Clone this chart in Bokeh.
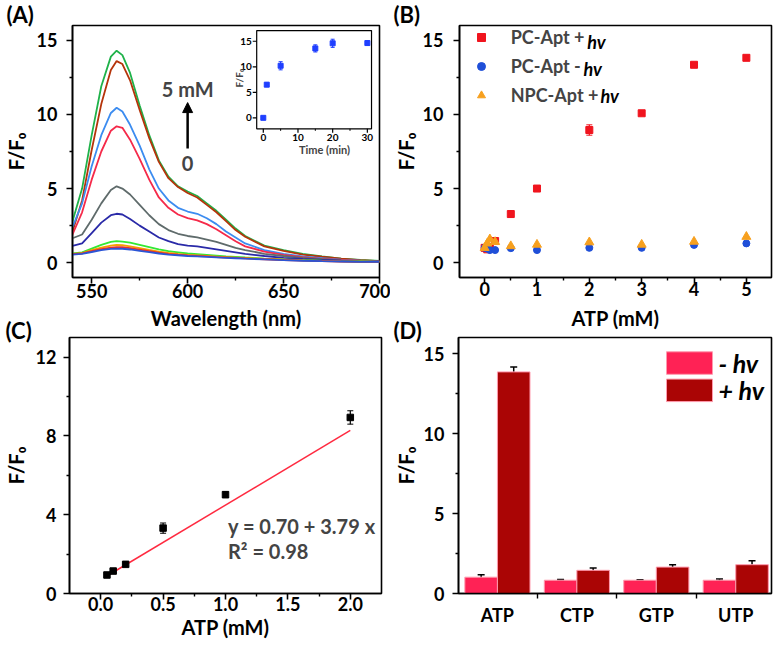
import numpy as np
from bokeh.plotting import figure
from bokeh.models import (Range1d, FixedTicker, Label, Arrow, NormalHead, Whisker, Title,
                          ColumnDataSource, Legend, LegendItem, TeeHead, NumeralTickFormatter,
                          BoxAnnotation)
from bokeh.layouts import column, row
from bokeh.embed import file_html
from bokeh.resources import INLINE
from bokeh.core.properties import value

FONT = "Lato"

# ---------------- Panel A data (spectra) ----------------
wavelength_nm = [540, 545, 550, 555, 560, 563, 566, 570, 575, 580, 585, 590, 595,
                 600, 605, 610, 615, 620, 625, 630, 640, 650, 660, 670, 680, 690, 700]
spec_0mM = [0.55, 0.60, 0.72, 0.85, 0.93, 0.95, 0.94, 0.89, 0.80, 0.71, 0.62, 0.55, 0.50,
            0.45, 0.42, 0.39, 0.36, 0.33, 0.30, 0.27, 0.22, 0.17, 0.13, 0.10, 0.08, 0.06, 0.05]
spec_005mM = [0.58, 0.62, 0.78, 0.92, 1.02, 1.05, 1.04, 0.98, 0.88, 0.78, 0.68, 0.60, 0.54,
              0.49, 0.45, 0.42, 0.38, 0.35, 0.32, 0.29, 0.23, 0.18, 0.14, 0.11, 0.08, 0.06, 0.05]
spec_01mM = [0.60, 0.65, 0.85, 1.02, 1.15, 1.20, 1.18, 1.10, 0.98, 0.86, 0.75, 0.66, 0.59,
             0.53, 0.49, 0.45, 0.41, 0.37, 0.34, 0.31, 0.25, 0.20, 0.15, 0.12, 0.09, 0.07, 0.05]
spec_02mM = [0.62, 0.70, 0.95, 1.20, 1.40, 1.45, 1.42, 1.35, 1.20, 1.05, 0.90, 0.78, 0.70,
             0.62, 0.58, 0.53, 0.48, 0.43, 0.39, 0.35, 0.28, 0.22, 0.17, 0.13, 0.10, 0.08, 0.06]
spec_05mM = [1.13, 1.30, 2.00, 2.70, 3.20, 3.30, 3.25, 2.95, 2.50, 2.10, 1.70, 1.45, 1.25,
             1.15, 1.10, 1.00, 0.90, 0.80, 0.70, 0.60, 0.45, 0.33, 0.25, 0.18, 0.13, 0.09, 0.07]
spec_1mM = [1.65, 1.90, 2.90, 4.00, 4.90, 5.15, 5.00, 4.60, 3.90, 3.20, 2.60, 2.20, 1.95,
            1.80, 1.70, 1.55, 1.40, 1.20, 1.00, 0.85, 0.60, 0.45, 0.32, 0.23, 0.16, 0.11, 0.08]
spec_2mM = [1.90, 3.40, 5.60, 7.50, 8.90, 9.20, 9.10, 8.30, 7.00, 5.60, 4.40, 3.70, 3.25,
            3.00, 2.85, 2.60, 2.25, 1.85, 1.45, 1.10, 0.75, 0.52, 0.37, 0.26, 0.18, 0.12, 0.09]
spec_3mM = [2.40, 4.00, 6.50, 8.60, 10.10, 10.45, 10.20, 9.30, 7.90, 6.30, 5.00, 4.20, 3.70,
            3.45, 3.30, 3.00, 2.60, 2.10, 1.70, 1.30, 0.85, 0.60, 0.42, 0.30, 0.20, 0.14, 0.10]
spec_4mM = [2.10, 4.20, 7.60, 10.70, 13.00, 13.60, 13.40, 12.30, 10.30, 8.40, 6.80, 5.70, 5.10,
            4.70, 4.40, 3.90, 3.40, 2.80, 2.20, 1.75, 1.10, 0.80, 0.55, 0.40, 0.27, 0.17, 0.11]
spec_5mM = [2.80, 5.00, 8.60, 11.90, 13.90, 14.30, 14.00, 12.80, 10.60, 8.60, 6.90, 5.80, 5.15,
            4.80, 4.50, 4.00, 3.50, 2.90, 2.30, 1.80, 1.15, 0.85, 0.60, 0.42, 0.28, 0.18, 0.12]
spectra = [spec_5mM, spec_4mM, spec_3mM, spec_2mM, spec_1mM, spec_05mM,
           spec_02mM, spec_01mM, spec_005mM, spec_0mM]
spectra_colors = ["#1fb24a", "#b5340a", "#3c8cf0", "#f52a4a", "#5f6b6b", "#2a2aa8",
                  "#33e833", "#f5a000", "#e8302a", "#2b55d6"]

# inset (time course)
time_min = [0, 1, 5, 15, 20, 30]
time_ratio = [0.0, 6.5, 10.2, 13.6, 14.6, 14.65]
time_err = [0.2, 0.35, 0.8, 0.7, 0.8, 0.45]
inset_xticks = [0, 10, 20, 30]
inset_xminor = [5, 15, 25]
inset_yticks = [0, 5, 10, 15]

# ---------------- Panel B data ----------------
atp_b = [0, 0.05, 0.1, 0.2, 0.5, 1, 2, 3, 4, 5]
pc_hv = [1.0, 0.9, 1.05, 1.46, 3.28, 5.0, 8.95, 10.08, 13.35, 13.82]
pc_hv_err = [0.05, 0.05, 0.05, 0.08, 0.22, 0.1, 0.35, 0.12, 0.1, 0.1]
pc_dark = [1.0, 0.95, 0.85, 0.85, 0.98, 0.85, 1.0, 1.0, 1.2, 1.3]
npc_hv = [1.0, 1.3, 1.58, 1.4, 1.12, 1.22, 1.38, 1.22, 1.42, 1.75]
legend_b = ["PC-Apt +", "PC-Apt -", "NPC-Apt +"]

# ---------------- Panel C data ----------------
atp_c = [0.05, 0.1, 0.2, 0.5, 1.0, 2.0]
ratio_c = [0.94, 1.14, 1.48, 3.32, 5.02, 8.94]
err_c = [0.08, 0.08, 0.1, 0.26, 0.15, 0.34]
fit_intercept = 0.70
fit_slope = 3.79
fit_r2 = 0.98

# ---------------- Panel D data ----------------
nucleotides = ["ATP", "CTP", "GTP", "UTP"]
dark_vals = [1.02, 0.83, 0.83, 0.83]
dark_err = [0.15, 0.05, 0.03, 0.07]
light_vals = [13.85, 1.45, 1.65, 1.8]
light_err = [0.3, 0.15, 0.15, 0.25]
legend_d = ["- hv", "+ hv"]
DARK_COLOR, LIGHT_COLOR, BAR_EDGE = "#ff2255", "#aa0505", "#ff9aae"


def make_fig(width, height, bl, br, bt, bb, xr, yr, letter, letter_offset, letter_standoff):
    title = Title(text=letter, align="left", offset=letter_offset, standoff=letter_standoff,
                  text_font=FONT, text_font_size="22px", text_font_style="bold",
                  text_color="black")
    p = figure(width=width, height=height, x_range=xr, y_range=yr, title=title,
               output_backend="svg", toolbar_location=None,
               min_border_left=bl, min_border_right=br,
               min_border_top=bt, min_border_bottom=bb)
    p.grid.visible = False
    p.outline_line_color = "black"
    p.outline_line_width = 1.6
    p.outline_line_alpha = 1.0
    p.background_fill_color = "white"
    p.border_fill_color = None
    for ax in (p.xaxis[0], p.yaxis[0]):
        ax.axis_line_width = 1.6
        ax.axis_line_color = "black"
        ax.major_tick_line_width = 1.6
        ax.minor_tick_line_width = 1.4
        ax.major_tick_out = 6
        ax.major_tick_in = 0
        ax.minor_tick_out = 3
        ax.minor_tick_in = 0
        ax.major_label_text_font = FONT
        ax.major_label_text_font_size = "18px"
        ax.major_label_text_font_style = "bold"
        ax.major_label_text_color = "black"
        ax.axis_label_text_font = FONT
        ax.axis_label_text_font_size = "20px"
        ax.axis_label_text_font_style = "bold"
        ax.axis_label_text_color = "black"
    return p


def add_label(p, text, x, y, size, angle=0.0, align="center", style="bold"):
    p.add_layout(Label(x=x, y=y, x_units="screen", y_units="screen", text=text, angle=angle,
                       text_align=align, text_baseline="middle", text_font=FONT,
                       text_font_size=size, text_font_style=style, text_color="black"))


# ================= Panel A =================
FA_W, FA_H = 310, 252
pA = make_fig(390, 339, 69, 11, 25, 62, Range1d(540, 700), Range1d(-1, 16), "(A)", -66, -5)
pA.xaxis[0].ticker = FixedTicker(ticks=[550, 600, 650, 700], minor_ticks=[575, 625, 675])
pA.yaxis[0].ticker = FixedTicker(ticks=[0, 5, 10, 15], minor_ticks=[2.5, 7.5, 12.5])
pA.xaxis[0].axis_label = "Wavelength (nm)"
pA.xaxis[0].major_label_standoff = 0
pA.xaxis[0].axis_label_standoff = 5
pA.yaxis[0].axis_label = "F/F\u2080"
pA.yaxis[0].major_label_standoff = 9
pA.yaxis[0].axis_label_standoff = 6

for vals, col in zip(spectra, spectra_colors):
    pA.line(wavelength_nm, vals, line_color=col, line_width=1.8)

pA.add_layout(Arrow(x_start=600, y_start=7.7, x_end=600, y_end=10.8, line_width=2.5,
                    line_color="black",
                    end=NormalHead(size=10, fill_color="black", line_color="black")))
pA.add_layout(Label(x=600, y=11.7, text="5 mM", text_align="center", text_baseline="middle",
                    text_font=FONT, text_font_size="20px", text_font_style="bold"))
pA.add_layout(Label(x=600, y=6.7, text="0", text_align="center", text_baseline="middle",
                    text_font=FONT, text_font_size="20px", text_font_style="bold"))

# inset, drawn in its own ranges that map onto part of the frame
fx0, fx1 = 0.600, 0.974
fy0, fy1 = 0.590, 0.980
ix0, ix1 = -1.9, 31.2
iy0, iy1 = -2.15, 17.1
spx = (ix1 - ix0) / (fx1 - fx0)
spy = (iy1 - iy0) / (fy1 - fy0)
pA.extra_x_ranges = {"ix": Range1d(ix0 - fx0 * spx, ix0 + (1 - fx0) * spx)}
pA.extra_y_ranges = {"iy": Range1d(iy0 - fy0 * spy, iy0 + (1 - fy0) * spy)}
dpx = spx / FA_W   # inset data units per pixel
dpy = spy / FA_H
IR = dict(x_range_name="ix", y_range_name="iy")
pA.quad(left=[ix0], right=[ix1], bottom=[iy0], top=[iy1], fill_color=None,
        line_color="black", line_width=1.2, **IR)
pA.segment(x0=inset_xticks, y0=[iy0] * 4, x1=inset_xticks, y1=[iy0 - 4 * dpy] * 4,
           line_color="black", line_width=1.2, **IR)
pA.segment(x0=inset_xminor, y0=[iy0] * 3, x1=inset_xminor, y1=[iy0 - 2 * dpy] * 3,
           line_color="black", line_width=1.0, **IR)
pA.segment(x0=[ix0] * 4, y0=inset_yticks, x1=[ix0 - 4 * dpx] * 4, y1=inset_yticks,
           line_color="black", line_width=1.2, **IR)
pA.text(x=inset_xticks, y=[iy0 - 5 * dpy] * 4, text=[str(t) for t in inset_xticks],
        text_align="center", text_baseline="top", text_font=value(FONT),
        text_font_size="10px", text_font_style="bold", **IR)
pA.text(x=[ix0 - 5 * dpx] * 4, y=inset_yticks, text=[str(t) for t in inset_yticks],
        text_align="right", text_baseline="middle", text_font=value(FONT),
        text_font_size="10px", text_font_style="bold", **IR)
pA.add_layout(Label(x=(ix0 + ix1) / 2 + 3, y=iy0 - 21 * dpy, text="Time (min)",
                    text_align="center", text_baseline="middle", text_font=FONT,
                    text_font_size="11px", text_font_style="bold", **IR))
pA.add_layout(Label(x=ix0 - 18 * dpx, y=(iy0 + iy1) / 2 + 0.3, text="F/F\u2080", angle=np.pi / 2,
                    text_align="center", text_baseline="middle", text_font=FONT,
                    text_font_size="10px", text_font_style="bold", **IR))
isrc = ColumnDataSource(dict(t=time_min, v=time_ratio,
                             lo=[a - b for a, b in zip(time_ratio, time_err)],
                             hi=[a + b for a, b in zip(time_ratio, time_err)]))
pA.add_layout(Whisker(base="t", lower="lo", upper="hi", source=isrc, line_color="#1f3fff",
                      line_width=1.2, upper_head=TeeHead(size=4, line_color="#1f3fff"),
                      lower_head=TeeHead(size=4, line_color="#1f3fff"), **IR))
pA.scatter("t", "v", source=isrc, marker="square", size=5, fill_color="#1f3fff",
           line_color="#1f3fff", **IR)

# ================= Panel B =================
FB_H = 252
pB = make_fig(388, 339, 69, 7, 25, 62, Range1d(-0.48, 5.48), Range1d(-1, 16), "(B)", -66, -5)
pB.xaxis[0].ticker = FixedTicker(ticks=[0, 1, 2, 3, 4, 5], minor_ticks=[0.5, 1.5, 2.5, 3.5, 4.5])
pB.yaxis[0].ticker = FixedTicker(ticks=[0, 5, 10, 15], minor_ticks=[2.5, 7.5, 12.5])
pB.xaxis[0].axis_label = "ATP (mM)"
pB.xaxis[0].major_label_standoff = -2
pB.xaxis[0].axis_label_standoff = 7
pB.yaxis[0].axis_label = "F/F\u2080"
pB.yaxis[0].major_label_standoff = 10
pB.yaxis[0].axis_label_standoff = 2
bsrc = ColumnDataSource(dict(x=atp_b, r=pc_hv,
                             lo=[a - b for a, b in zip(pc_hv, pc_hv_err)],
                             hi=[a + b for a, b in zip(pc_hv, pc_hv_err)],
                             d=pc_dark, n=npc_hv))
pB.add_layout(Whisker(base="x", lower="lo", upper="hi", source=bsrc, line_color="#f0141e",
                      line_width=1.2, upper_head=TeeHead(size=6, line_color="#f0141e"),
                      lower_head=TeeHead(size=6, line_color="#f0141e")))
r_red = pB.scatter("x", "r", source=bsrc, marker="square", size=7, fill_color="#f0141e",
                   line_color="#f0141e")
r_blue = pB.scatter("x", "d", source=bsrc, marker="circle", size=7, fill_color="#1f4fd8",
                    line_color="#1f4fd8")
r_or = pB.scatter("x", "n", source=bsrc, marker="triangle", size=9, fill_color="#f7a01e",
                  line_color="#f7a01e")
legB = Legend(items=[LegendItem(label=legend_b[0], renderers=[r_red]),
                     LegendItem(label=legend_b[1], renderers=[r_blue]),
                     LegendItem(label=legend_b[2], renderers=[r_or])],
              location=(11.7, 171.3), margin=0, padding=0, spacing=7,
              glyph_width=20, glyph_height=20, label_height=20, label_standoff=20,
              border_line_color=None, background_fill_alpha=0,
              label_text_font=FONT, label_text_font_size="18px",
              label_text_font_style="bold")
pB.add_layout(legB)
add_label(pB, "hv", 127.7, FB_H - 16.7, "18px", align="left", style="bold italic")
add_label(pB, "hv", 124.0, FB_H - 43.7, "18px", align="left", style="bold italic")
add_label(pB, "hv", 141.0, FB_H - 70.7, "18px", align="left", style="bold italic")

# ================= Panel C =================
pC = make_fig(390, 333, 67, 9, 22, 55, Range1d(-0.25, 2.25), Range1d(0, 13), "(C)", -64, -12)
pC.xaxis[0].ticker = FixedTicker(ticks=[0, 0.5, 1.0, 1.5, 2.0],
                                 minor_ticks=[0.25, 0.75, 1.25, 1.75])
pC.xaxis[0].formatter = NumeralTickFormatter(format="0.0")
pC.yaxis[0].ticker = FixedTicker(ticks=[0, 4, 8, 12], minor_ticks=[2, 6, 10])
pC.xaxis[0].axis_label = "ATP (mM)"
pC.xaxis[0].major_label_standoff = -3
pC.xaxis[0].axis_label_standoff = 1
pC.yaxis[0].axis_label = "F/F\u2080"
pC.yaxis[0].major_label_standoff = 7
pC.yaxis[0].axis_label_standoff = 5
fit_x = [atp_c[0], atp_c[-1]]
fit_y = [fit_intercept + fit_slope * v for v in fit_x]
pC.line(fit_x, fit_y, line_color="#ff2a40", line_width=1.5)
csrc = ColumnDataSource(dict(x=atp_c, y=ratio_c,
                             lo=[a - b for a, b in zip(ratio_c, err_c)],
                             hi=[a + b for a, b in zip(ratio_c, err_c)]))
pC.add_layout(Whisker(base="x", lower="lo", upper="hi", source=csrc, line_color="black",
                      line_width=1.2, upper_head=TeeHead(size=6, line_color="black"),
                      lower_head=TeeHead(size=6, line_color="black")))
pC.scatter("x", "y", source=csrc, marker="square", size=6.5, fill_color="black",
           line_color="black")
pC.add_layout(Label(x=1.02, y=3.45, text=f"y = {fit_intercept:.2f} + {fit_slope:.2f} x",
                    text_align="left", text_baseline="middle", text_font=FONT,
                    text_font_size="20px", text_font_style="bold"))
pC.add_layout(Label(x=1.02, y=2.15, text=f"R\u00b2 = {fit_r2:.2f}",
                    text_align="left", text_baseline="middle", text_font=FONT,
                    text_font_size="20px", text_font_style="bold"))

# ================= Panel D =================
FD_H = 256
pos = list(range(1, len(nucleotides) + 1))
pD = make_fig(388, 333, 68, 7, 22, 55, Range1d(0.51, 4.45), Range1d(0, 16), "(D)", -65, -12)
pD.xaxis[0].ticker = FixedTicker(ticks=pos, minor_ticks=[k + 0.5 for k in pos[:-1]])
pD.xaxis[0].major_label_overrides = {k: n for k, n in zip(pos, nucleotides)}
pD.xaxis[0].major_tick_out = 0
pD.xaxis[0].minor_tick_out = 5
pD.xaxis[0].major_label_standoff = 5
pD.yaxis[0].ticker = FixedTicker(ticks=[0, 5, 10, 15], minor_ticks=[2.5, 7.5, 12.5])
pD.yaxis[0].axis_label = "F/F\u2080"
pD.yaxis[0].major_label_standoff = 8
pD.yaxis[0].axis_label_standoff = 3
BW = 0.41
dsrc = ColumnDataSource(dict(
    xd=[k - BW / 2 for k in pos], xl=[k + BW / 2 for k in pos],
    d=dark_vals, l=light_vals,
    dlo=[a - b for a, b in zip(dark_vals, dark_err)], dhi=[a + b for a, b in zip(dark_vals, dark_err)],
    llo=[a - b for a, b in zip(light_vals, light_err)], lhi=[a + b for a, b in zip(light_vals, light_err)]))
pD.vbar(x="xd", top="d", width=BW, bottom=0, source=dsrc, fill_color=DARK_COLOR,
        line_color=BAR_EDGE, line_width=1)
pD.vbar(x="xl", top="l", width=BW, bottom=0, source=dsrc, fill_color=LIGHT_COLOR,
        line_color=BAR_EDGE, line_width=1)
for b, lo, hi in (("xd", "dlo", "dhi"), ("xl", "llo", "lhi")):
    pD.add_layout(Whisker(base=b, lower=lo, upper=hi, source=dsrc, line_color="black",
                          line_width=1.5, upper_head=TeeHead(size=7, line_color="black", line_width=1.5),
                          lower_head=TeeHead(size=7, line_color="black", line_width=1.5)))
# legend for panel D: colour swatches and labels placed in frame pixels
for i, (lab, col) in enumerate(zip(legend_d, [DARK_COLOR, LIGHT_COLOR])):
    top = FD_H - 14.3 - 27.3 * i
    pD.add_layout(BoxAnnotation(left=208, right=254, top=top, bottom=top - 22.5,
                                left_units="screen", right_units="screen",
                                top_units="screen", bottom_units="screen",
                                fill_color=col, fill_alpha=1.0, line_color=BAR_EDGE,
                                line_width=1, line_alpha=1.0))
    add_label(pD, lab, 260, top - 11.2, "25px", align="left", style="bold italic")

layout = column(row(pA, pB), row(pC, pD, margin=(-24, 0, 0, 0)))
open("out.html", "w").write(file_html(layout, INLINE))
